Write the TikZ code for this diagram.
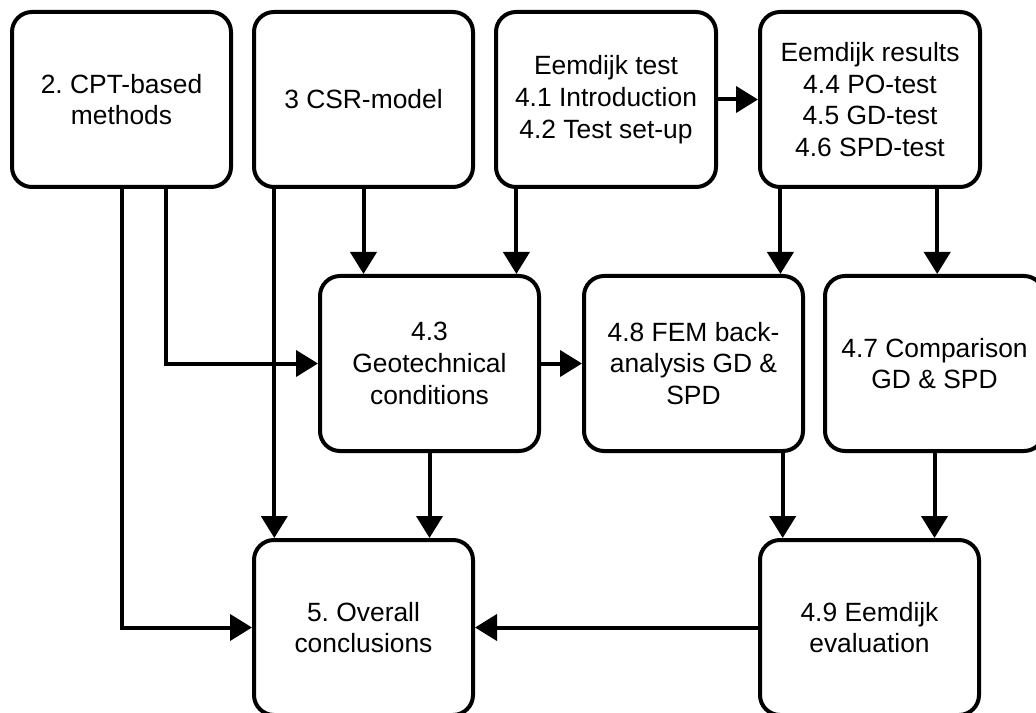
\documentclass[tikz,border=0pt]{standalone}
\usepackage{fontspec}
\setmainfont{Liberation Sans}
\usetikzlibrary{arrows.meta,calc}
\frenchspacing
\begin{document}
\begin{tikzpicture}[x=0.75pt,y=-0.75pt,
  box/.style={draw=black,line width=3pt,rounded corners=15pt,fill=white,
    minimum width=164.25pt,minimum height=131.25pt,align=center,inner sep=0pt,
    font=\fontsize{19.8pt}{23.8pt}\selectfont},
  arr/.style={line width=3pt,-{Triangle[length=16.5pt,width=19.5pt]}}]
\useasboundingbox (0,0) rectangle (1036,713);
\clip (0,0) rectangle (1036,713);
\node[box] (b1) at (121.5,99.5) {2. CPT-based\\methods};
\node[box] (b2) at (363.5,99.5) {3 CSR-model};
\node[box,minimum width=165pt] (b3) at (606,99.5) {Eemdijk test\\4.1 Introduction\\4.2 Test set-up};
\node[box,minimum width=165pt] (b4) at (870,99.5) {Eemdijk results\\4.4 PO-test\\4.5 GD-test\\4.6 SPD-test};
\node[box] (b43) at (429.5,363.5) {4.3\\Geotechnical\\conditions};
\node[box] (b48) at (693.5,363.5) {4.8 FEM back-\\analysis GD \&\\SPD};
\node[box] (b47) at (934.5,363.5) {4.7 Comparison\\GD \& SPD};
\node[box] (b5) at (363.5,627.5) {5. Overall\\conclusions};
\node[box] (b49) at (869.5,627.5) {4.9 Eemdijk\\evaluation};
\coordinate (p1) at ($(b1.south west)!0.7!(b1.south east)$);
\coordinate (p2) at ($(b2.south west)!0.1!(b2.south east)$);
\coordinate (p3) at ($(b3.south west)!0.1!(b3.south east)$);
\coordinate (p4a) at ($(b4.south west)!0.1!(b4.south east)$);
\coordinate (p4b) at ($(b4.south west)!0.8!(b4.south east)$);
\coordinate (p48) at ($(b48.south west)!0.9!(b48.south east)$);
\draw[arr] (b1.south) |- (b5.west);
\draw[arr] (p1) |- (b43.west);
\draw[arr] (p2) -- (p2 |- b5.north);
\draw[arr] (b2.south) -- (b2.south |- b43.north);
\draw[arr] (p3) -- (p3 |- b43.north);
\draw[arr] (b3.east) -- (b4.west);
\draw[arr] (p4a) -- (p4a |- b48.north);
\draw[arr] (p4b) -- (p4b |- b47.north);
\draw[arr] (b43.east) -- (b48.west);
\draw[arr] (b43.south) -- (b43.south |- b5.north);
\draw[arr] (p48) -- (p48 |- b49.north);
\draw[arr] (b47.south) -- (b47.south |- b49.north);
\draw[arr] (b49.west) -- (b5.east);
\end{tikzpicture}
\end{document}
